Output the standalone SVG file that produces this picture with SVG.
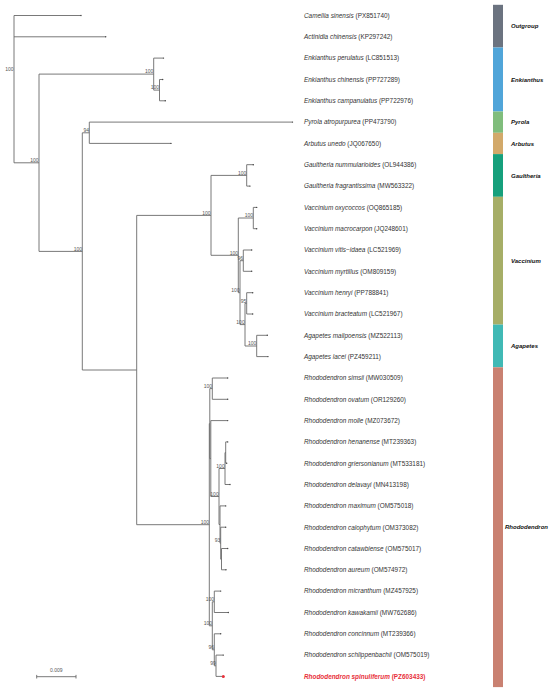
<svg xmlns="http://www.w3.org/2000/svg" width="550" height="692" viewBox="0 0 550 692">
<style>
.br{fill:none;stroke:#6a6a6a;stroke-width:0.9}
.nl{font-family:"Liberation Sans",Arial,sans-serif;font-size:5px;fill:#555;text-anchor:end}
.tl{font-family:"Liberation Sans",Arial,sans-serif;font-size:6.4px;fill:#333}
.sp{font-style:italic}
.cl{font-family:"Liberation Sans",Arial,sans-serif;font-size:6px;font-weight:bold;font-style:italic;fill:#111}
.tip{fill:#444}
</style>
<rect width="550" height="692" fill="#fff"/>
<g id="connectors">
<path class="br" d="M14 15.5H81M14 36.8H105.7M14 162.8H39M39 74.1H153.7M39 251.4H82.3M153.7 58.1H163.5M153.7 90.1H159.5M159.5 79.5H162.7M159.5 100.8H165.3M82.3 132.8H89.3M82.3 370H136.7M89.3 122.1H292.5M89.3 143.4H171M136.7 215.4H211M136.7 524.7H209.3M211 175.4H246.7M211 255.3H238.3M246.7 164.7H253.3M246.7 186.1H250M238.3 218H253.3M238.3 292.7H240M253.3 207.4H256.7M253.3 228.7H256.7M240 260.7H243.3M240 324.6H245M243.3 250H251.7M243.3 271.3H251.7M245 303.3H246.7M245 346H256.7M246.7 292.7H252.7M246.7 314H252.7M256.7 335.3H267.3M256.7 356.6H268M209.3 423.6H209.8M209.3 625.8H212.3M209.8 388.6H212.3M209.8 458.6H210.8M212.3 378H227.7M212.3 399.3H227.7M210.8 420.6H227.7M210.8 496.5H219M219 468.5H225M219 524.5H220M225 452.6H225.7M225 484.5H230M225.7 441.9H227.7M225.7 463.2H226.7M220 505.9H225.7M220 543.2H220.7M220.7 527.2H225.7M220.7 559.2H221.5M221.5 548.5H227.7M221.5 569.8H226M212.3 601.8H214.3M212.3 649.8H214.3M214.3 591.1H220.7M214.3 612.5H228.3M214.3 633.8H220.7M214.3 665.8H216M216 655.1H223.3M216 676.4H223.3"/>
<path class="br" d="M14 15.5V162.8M39 74.1V251.4M153.7 58.1V90.1M159.5 79.5V100.8M82.3 132.8V370M89.3 122.1V143.4M136.7 215.4V524.7M211 175.4V255.3M246.7 164.7V186.1M238.3 218V292.7M253.3 207.4V228.7M240 260.7V324.6M243.3 250V271.3M245 303.3V346M246.7 292.7V314M256.7 335.3V356.6M209.3 423.6V625.8M209.8 388.6V458.6M212.3 378V399.3M210.8 420.6V496.5M219 468.5V524.5M225 452.6V484.5M225.7 441.9V463.2M220 505.9V543.2M220.7 527.2V559.2M221.5 548.5V569.8M212.3 601.8V649.8M214.3 591.1V612.5M214.3 633.8V665.8M216 655.1V676.4"/>
</g>
<g id="tips">
<circle class="tip" cx="81" cy="15.5" r="0.7"/><circle class="tip" cx="105.7" cy="36.8" r="0.7"/><circle class="tip" cx="163.5" cy="58.1" r="0.7"/><circle class="tip" cx="162.7" cy="79.5" r="0.7"/><circle class="tip" cx="165.3" cy="100.8" r="0.7"/><circle class="tip" cx="292.5" cy="122.1" r="0.7"/><circle class="tip" cx="171" cy="143.4" r="0.7"/><circle class="tip" cx="253.3" cy="164.7" r="0.7"/><circle class="tip" cx="250" cy="186.1" r="0.7"/><circle class="tip" cx="256.7" cy="207.4" r="0.7"/><circle class="tip" cx="256.7" cy="228.7" r="0.7"/><circle class="tip" cx="251.7" cy="250" r="0.7"/><circle class="tip" cx="251.7" cy="271.3" r="0.7"/><circle class="tip" cx="252.7" cy="292.7" r="0.7"/><circle class="tip" cx="252.7" cy="314" r="0.7"/><circle class="tip" cx="267.3" cy="335.3" r="0.7"/><circle class="tip" cx="268" cy="356.6" r="0.7"/><circle class="tip" cx="227.7" cy="378" r="0.7"/><circle class="tip" cx="227.7" cy="399.3" r="0.7"/><circle class="tip" cx="227.7" cy="420.6" r="0.7"/><circle class="tip" cx="227.7" cy="441.9" r="0.7"/><circle class="tip" cx="226.7" cy="463.2" r="0.7"/><circle class="tip" cx="230" cy="484.5" r="0.7"/><circle class="tip" cx="225.7" cy="505.9" r="0.7"/><circle class="tip" cx="225.7" cy="527.2" r="0.7"/><circle class="tip" cx="227.7" cy="548.5" r="0.7"/><circle class="tip" cx="226" cy="569.8" r="0.7"/><circle class="tip" cx="220.7" cy="591.1" r="0.7"/><circle class="tip" cx="228.3" cy="612.5" r="0.7"/><circle class="tip" cx="220.7" cy="633.8" r="0.7"/><circle class="tip" cx="223.3" cy="655.1" r="0.7"/>
<circle cx="223.3" cy="676.4" r="1.5" fill="#e8303a"/>
</g>
<g id="support">
<text class="nl" x="13.5" y="71">100</text>
<text class="nl" x="38.5" y="162">100</text>
<text class="nl" x="153.3" y="73.3">100</text>
<text class="nl" x="159" y="89.3">100</text>
<text class="nl" x="82" y="250.6">100</text>
<text class="nl" x="89" y="132">94</text>
<text class="nl" x="210.5" y="214.6">100</text>
<text class="nl" x="246.3" y="174.6">100</text>
<text class="nl" x="238" y="254.5">100</text>
<text class="nl" x="253" y="217.2">100</text>
<text class="nl" x="239.7" y="291.9">100</text>
<text class="nl" x="243" y="259.9">96</text>
<text class="nl" x="244.7" y="323.8">100</text>
<text class="nl" x="246.3" y="302.5">95</text>
<text class="nl" x="256.3" y="345.2">100</text>
<text class="nl" x="209" y="523.9">100</text>
<text class="nl" x="212" y="387.8">100</text>
<text class="nl" x="218.7" y="495.7">100</text>
<text class="nl" x="224.7" y="467.7">100</text>
<text class="nl" x="220.3" y="542.4">93</text>
<text class="nl" x="212" y="625">100</text>
<text class="nl" x="214" y="601">100</text>
<text class="nl" x="214" y="649">96</text>
<text class="nl" x="215.7" y="665">99</text>
</g>
<g id="taxa">
<text class="tl" x="304" y="17.8"><tspan class="sp">Camellia sinensis</tspan> (PX851740)</text>
<text class="tl" x="304" y="39.1"><tspan class="sp">Actinidia chinensis</tspan> (KP297242)</text>
<text class="tl" x="304" y="60.4"><tspan class="sp">Enkianthus perulatus</tspan> (LC851513)</text>
<text class="tl" x="304" y="81.8"><tspan class="sp">Enkianthus chinensis</tspan> (PP727289)</text>
<text class="tl" x="304" y="103.1"><tspan class="sp">Enkianthus campanulatus</tspan> (PP722976)</text>
<text class="tl" x="304" y="124.4"><tspan class="sp">Pyrola atropurpurea</tspan> (PP473790)</text>
<text class="tl" x="304" y="145.7"><tspan class="sp">Arbutus unedo</tspan> (JQ067650)</text>
<text class="tl" x="304" y="167"><tspan class="sp">Gaultheria nummularioides</tspan> (OL944386)</text>
<text class="tl" x="304" y="188.4"><tspan class="sp">Gaultheria fragrantissima</tspan> (MW563322)</text>
<text class="tl" x="304" y="209.7"><tspan class="sp">Vaccinium oxycoccos</tspan> (OQ865185)</text>
<text class="tl" x="304" y="231"><tspan class="sp">Vaccinium macrocarpon</tspan> (JQ248601)</text>
<text class="tl" x="304" y="252.3"><tspan class="sp">Vaccinium vitis−idaea</tspan> (LC521969)</text>
<text class="tl" x="304" y="273.6"><tspan class="sp">Vaccinium myrtillus</tspan> (OM809159)</text>
<text class="tl" x="304" y="295"><tspan class="sp">Vaccinium henryi</tspan> (PP788841)</text>
<text class="tl" x="304" y="316.3"><tspan class="sp">Vaccinium bracteatum</tspan> (LC521967)</text>
<text class="tl" x="304" y="337.6"><tspan class="sp">Agapetes malipoensis</tspan> (MZ522113)</text>
<text class="tl" x="304" y="358.9"><tspan class="sp">Agapetes lacei</tspan> (PZ459211)</text>
<text class="tl" x="304" y="380.3"><tspan class="sp">Rhododendron simsii</tspan> (MW030509)</text>
<text class="tl" x="304" y="401.6"><tspan class="sp">Rhododendron ovatum</tspan> (OR129260)</text>
<text class="tl" x="304" y="422.9"><tspan class="sp">Rhododendron molle</tspan> (MZ073672)</text>
<text class="tl" x="304" y="444.2"><tspan class="sp">Rhododendron henanense</tspan> (MT239363)</text>
<text class="tl" x="304" y="465.5"><tspan class="sp">Rhododendron griersonianum</tspan> (MT533181)</text>
<text class="tl" x="304" y="486.8"><tspan class="sp">Rhododendron delavayi</tspan> (MN413198)</text>
<text class="tl" x="304" y="508.2"><tspan class="sp">Rhododendron maximum</tspan> (OM575018)</text>
<text class="tl" x="304" y="529.5"><tspan class="sp">Rhododendron calophytum</tspan> (OM373082)</text>
<text class="tl" x="304" y="550.8"><tspan class="sp">Rhododendron catawbiense</tspan> (OM575017)</text>
<text class="tl" x="304" y="572.1"><tspan class="sp">Rhododendron aureum</tspan> (OM574972)</text>
<text class="tl" x="304" y="593.4"><tspan class="sp">Rhododendron micranthum</tspan> (MZ457925)</text>
<text class="tl" x="304" y="614.8"><tspan class="sp">Rhododendron kawakamii</tspan> (MW762686)</text>
<text class="tl" x="304" y="636.1"><tspan class="sp">Rhododendron concinnum</tspan> (MT239366)</text>
<text class="tl" x="304" y="657.4"><tspan class="sp">Rhododendron schlippenbachii</tspan> (OM575019)</text>
<text class="tl" x="304" y="678.7" style="fill:#e8303a;font-weight:bold"><tspan class="sp">Rhododendron spinuliferum</tspan> (PZ603433)</text>
</g>
<g id="clade-bar">
<rect x="493" y="4.8" width="10" height="42.7" fill="#6b7380"/>
<rect x="493" y="47.5" width="10" height="64" fill="#50a5d9"/>
<rect x="493" y="111.5" width="10" height="21.3" fill="#80bd7c"/>
<rect x="493" y="132.8" width="10" height="21.3" fill="#d2a96a"/>
<rect x="493" y="154.1" width="10" height="42.7" fill="#16a07c"/>
<rect x="493" y="196.8" width="10" height="127.8" fill="#a6ae67"/>
<rect x="493" y="324.6" width="10" height="42.7" fill="#40b9b5"/>
<rect x="493" y="367.3" width="10" height="319.8" fill="#c98171"/>
</g>
<g id="clade-labels">
<text class="cl" x="511" y="28.2">Outgroup</text>
<text class="cl" x="511" y="81.6">Enkianthus</text>
<text class="cl" x="511" y="124.2">Pyrola</text>
<text class="cl" x="511" y="145.5">Arbutus</text>
<text class="cl" x="511" y="177.5">Gaultheria</text>
<text class="cl" x="511" y="262.8">Vaccinium</text>
<text class="cl" x="511" y="348">Agapetes</text>
<text class="cl" x="505" y="529.3">Rhododendron</text>
</g>
<g id="scale">
<path class="br" d="M36.7 676.7H76M36.7 674.9V678.5M76 674.9V678.5"/>
<text class="nl" x="56.3" y="672" style="text-anchor:middle">0.009</text>
</g>
</svg>
